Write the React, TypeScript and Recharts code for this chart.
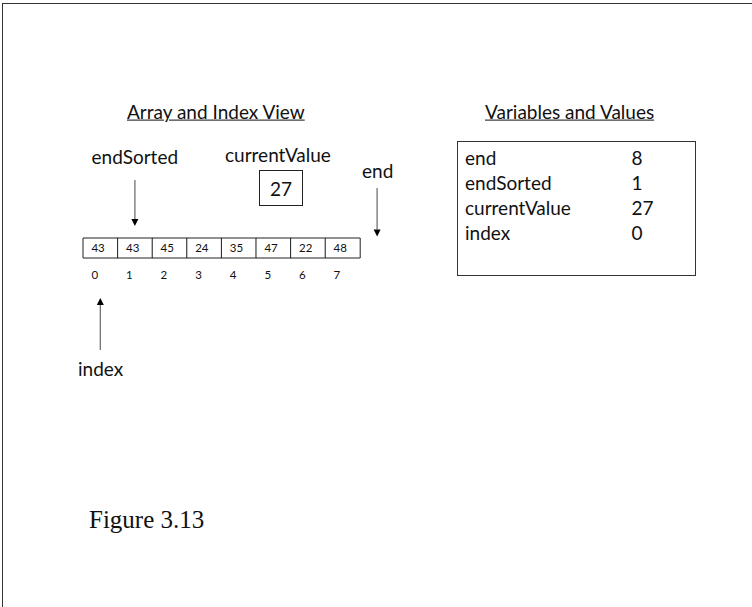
// Figure 3.13: 挿入ソートの途中経過。配列セルは Bar、添字は XAxis の tick、
// ポインタ矢印は ReferenceLine の segment で描き、見出しや変数表は HTML で重ねる。
import { Bar, BarChart, LabelList, ReferenceLine, XAxis, YAxis } from 'recharts'

// ---- data ----
const cellIndex = [0, 1, 2, 3, 4, 5, 6, 7]
const cellValues = [43, 43, 45, 24, 35, 47, 22, 48]
const pointerNames = ['endSorted', 'end', 'index']
const pointerCells = [1, 8, 0]
const varNames = ['end', 'endSorted', 'currentValue', 'index']
const varValues = [8, 1, 27, 0]
const currentValue = 27

// ---- style ----
const SANS = 'Lato, "Open Sans", sans-serif'
const INK = '#111'
const FS = 19
const W = 752
const H = 607
// 配列の描画領域（px）
const ARR_LEFT = 83
const CELL_W = 34.6
const ARR_TOP = 238
const ARR_H = 20
const AXIS_H = 30

// 矢印の始点・終点（セル高さ単位、配列下端=0・上端=1）
const pointerSpan: Record<string, [number, number]> = {
  endSorted: [3.9, 1.6],
  end: [3.5, 1.07],
  index: [-4.6, -2.0],
}

const slots = [...cellIndex, cellIndex.length]
const rows = slots.map((i) => ({
  idx: i,
  cell: i < cellValues.length ? 1 : null,
  value: i < cellValues.length ? cellValues[i] : null,
}))

function Arrow(props: any) {
  const { x1, y1, x2, y2 } = props
  if ([x1, y1, x2, y2].some((v) => typeof v !== 'number' || isNaN(v))) return null
  const dir = y2 > y1 ? 1 : -1
  const head = 7
  return (
    <g>
      <line x1={x1} y1={y1} x2={x2} y2={y2 - dir * head} stroke="#666" strokeWidth={1.2} />
      <polygon
        points={`${x2 - 3.5},${y2 - dir * head} ${x2 + 3.5},${y2 - dir * head} ${x2},${y2}`}
        fill="#000"
      />
    </g>
  )
}

function IndexTick(props: any) {
  const { x, payload } = props
  if (payload == null || payload.value >= cellValues.length) return null
  return (
    <text
      x={x - CELL_W / 2 + 8.4}
      y={ARR_TOP + ARR_H + 21}
      fontFamily={SANS}
      fontSize={11.5}
      fill={INK}
      textAnchor="start"
    >
      {payload.value}
    </text>
  )
}

function CellLabel(props: any) {
  const { x, y, height, value } = props
  if (value == null) return null
  return (
    <text x={x + 8.4} y={y + height / 2 + 4} fontFamily={SANS} fontSize={11.5} fill={INK}>
      {value}
    </text>
  )
}

function T({
  x,
  y,
  size = FS,
  children,
  style,
}: {
  x: number
  y: number
  size?: number
  children: React.ReactNode
  style?: React.CSSProperties
}) {
  return (
    <div
      style={{
        position: 'absolute',
        left: x,
        top: y,
        transform: 'translateY(-50%)',
        fontFamily: SANS,
        fontSize: size,
        lineHeight: 1.2,
        whiteSpace: 'nowrap',
        color: INK,
        ...style,
      }}
    >
      {children}
    </div>
  )
}

export default function App() {
  const plotW = slots.length * CELL_W
  return (
    <div
      style={{
        position: 'absolute',
        left: 0,
        top: 0,
        width: W,
        height: H,
        overflow: 'hidden',
        background: '#fff',
      }}
    >
      {/* 外枠（上と左だけ見える） */}
      <div
        style={{
          position: 'absolute',
          left: 2,
          top: 3,
          width: W + 40,
          height: H + 40,
          borderTop: '1.5px solid #333',
          borderLeft: '1.5px solid #333',
        }}
      />

      <div style={{ position: 'absolute', left: 0, top: 0 }}>
        <BarChart
          width={W}
          height={H}
          data={rows}
          barCategoryGap={0}
          margin={{
            top: ARR_TOP,
            left: ARR_LEFT,
            right: W - ARR_LEFT - plotW,
            bottom: H - ARR_TOP - ARR_H - AXIS_H,
          }}
        >
          <XAxis
            dataKey="idx"
            interval={0}
            height={AXIS_H}
            tickLine={false}
            axisLine={false}
            tick={<IndexTick />}
          />
          <YAxis hide domain={[0, 1]} />
          <Bar dataKey="cell" fill="#fff" stroke="#222" strokeWidth={1} isAnimationActive={false}>
            <LabelList dataKey="value" content={<CellLabel />} />
          </Bar>
          {pointerNames.map((name, i) => (
            <ReferenceLine
              key={name}
              ifOverflow="visible"
              segment={[
                { x: pointerCells[i], y: pointerSpan[name][0] },
                { x: pointerCells[i], y: pointerSpan[name][1] },
              ]}
              shape={<Arrow />}
            />
          ))}
        </BarChart>
      </div>

      {/* 左側：配列ビュー */}
      <T x={127} y={112} style={{ textDecoration: 'underline' }}>
        Array and Index View
      </T>
      <T x={91.5} y={157}>{pointerNames[0]}</T>
      <T x={225} y={155}>currentValue</T>
      <T x={362} y={171}>{pointerNames[1]}</T>
      <T x={78} y={369}>{pointerNames[2]}</T>
      <div
        style={{
          position: 'absolute',
          left: 259,
          top: 170,
          width: 42,
          height: 34,
          border: '1px solid #222',
          display: 'flex',
          alignItems: 'center',
          justifyContent: 'center',
          fontFamily: SANS,
          fontSize: FS,
          color: INK,
        }}
      >
        {currentValue}
      </div>

      {/* 右側：変数と値 */}
      <T x={485} y={112} style={{ textDecoration: 'underline' }}>
        Variables and Values
      </T>
      <div
        style={{
          position: 'absolute',
          left: 457,
          top: 141,
          width: 237,
          height: 133,
          border: '1px solid #333',
        }}
      />
      {varNames.map((n, i) => (
        <T key={n} x={465} y={158 + i * 25}>
          {n}
        </T>
      ))}
      {varValues.map((v, i) => (
        <T key={varNames[i]} x={631.5} y={158 + i * 25}>
          {v}
        </T>
      ))}

      <T x={89} y={520} size={25} style={{ fontFamily: '"Liberation Serif", serif' }}>
        Figure 3.13
      </T>
    </div>
  )
}
